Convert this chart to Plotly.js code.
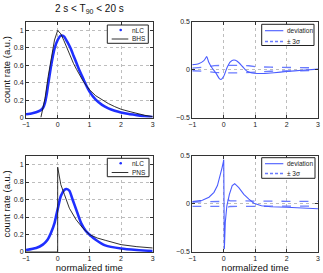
<!DOCTYPE html>
<html><head><meta charset="utf-8">
<script src="https://cdn.plot.ly/plotly-3.0.1.min.js"></script>
<style>html,body{margin:0;padding:0;background:#fff}#c{width:323px;height:273px}</style>
</head><body><div id="c"></div>
<script>
// ---- top row: 2 s < T90 < 20 s, BHS model ----
const nlcTopX = [-1,-0.8,-0.6,-0.5,-0.45,-0.4,-0.35,-0.3,-0.2,-0.1,0,0.1,0.2,0.3,0.4,0.5,0.6,0.7,0.8,0.9,1.0,1.2,1.4,1.6,1.8,2.0,2.25,2.5,2.75,3.0];
const nlcTopY = [0.038,0.05,0.072,0.095,0.12,0.17,0.26,0.38,0.61,0.79,0.89,0.94,0.93,0.87,0.8,0.71,0.62,0.53,0.45,0.37,0.3,0.205,0.145,0.105,0.078,0.058,0.04,0.027,0.015,0.006];
const bhsX = [-0.53,-0.45,-0.4,-0.3,-0.2,-0.1,0,0.1,0.2,0.3,0.4,0.5,0.6,0.7,0.8,0.9,1.0,1.2,1.4,1.6,1.8,2.0,2.25,2.5,2.75,3.0];
const bhsY = [0,0.13,0.22,0.47,0.70,0.89,1.0,0.96,0.88,0.79,0.70,0.62,0.55,0.48,0.42,0.37,0.32,0.25,0.2,0.16,0.125,0.095,0.07,0.047,0.025,0.01];
const devTopX = [-1,-0.8,-0.63,-0.54,-0.48,-0.37,-0.24,-0.14,-0.085,0,0.1,0.21,0.32,0.43,0.59,0.74,0.9,1.06,1.3,1.6,2.0,2.5,3.0];
const devTopY = [0.052,0.062,0.094,0.135,0.08,0.017,-0.04,-0.094,-0.104,-0.07,0.017,0.08,0.10,0.087,0.035,-0.017,-0.035,-0.04,-0.04,-0.033,-0.02,-0.007,0.005];
const sigTopX = [-1,-0.7,-0.5,-0.3,0,0.5,0.8,1,1.5,2,2.5,3];
const sigTopUp = [0.015,0.02,0.03,0.042,0.045,0.045,0.04,0.03,0.025,0.022,0.02,0.018];
const sigTopLo = [-0.012,-0.015,-0.02,-0.03,-0.035,-0.035,-0.03,-0.022,-0.017,-0.014,-0.012,-0.01];

// ---- bottom row: PNS model ----
const nlcBotX = [-1,-0.68,-0.47,-0.32,-0.21,-0.1,-0.05,0,0.1,0.21,0.28,0.37,0.47,0.58,0.74,0.89,1.0,1.2,1.5,2.0,2.5,3.0];
const nlcBotY = [0.023,0.046,0.084,0.14,0.22,0.33,0.41,0.49,0.64,0.71,0.72,0.7,0.6,0.49,0.33,0.24,0.2,0.14,0.076,0.04,0.023,0.012];
const pnsX = [-1,0,0,0.05,0.1,0.21,0.37,0.58,0.79,1.0,1.25,1.5,2.0,2.5,3.0];
const pnsY = [0,0,0.97,0.87,0.77,0.66,0.5,0.37,0.275,0.2,0.16,0.134,0.084,0.061,0.046];
const devBotX = [-1,-0.68,-0.47,-0.31,-0.2,-0.1,-0.05,-0.01,0,0.02,0.05,0.1,0.18,0.27,0.35,0.48,0.64,0.8,0.96,1.2,1.5,2.0,2.5,3.0];
const devBotY = [0.024,0.038,0.07,0.12,0.19,0.3,0.38,0.44,0.46,-0.47,-0.19,-0.02,0.1,0.19,0.21,0.17,0.1,0.05,0.007,-0.02,-0.03,-0.035,-0.04,-0.05];
const sigBotX = [-1,-0.5,-0.1,0,0.12,0.2,0.5,1,1.5,2,2.5,3];
const sigBotUp = [0.02,0.022,0.025,0.045,0.045,0.032,0.03,0.028,0.027,0.027,0.027,0.027];
const sigBotLo = [-0.025,-0.025,-0.025,-0.035,-0.035,-0.027,-0.025,-0.024,-0.023,-0.023,-0.023,-0.023];

const xTicks = [-1,0,1,2,3];
const yTicksL = [0,0.2,0.4,0.6,0.8,1];
const yTicksR = [-0.5,0,0.5];
const legTopL = ['nLC','BHS'];
const legBotL = ['nLC','PNS'];
const legR = ['deviation','± 3σ'];

const BLUE = '#1f2fff', DEV = '#4a5cff', SIG = '#6a7bff', BLK = '#1a1a1a';

function tr(x,y,xa,ya,name,line){ return {x:x,y:y,xaxis:xa,yaxis:ya,mode:'lines',name:name,line:line,showlegend:false,hoverinfo:'skip'}; }
const nlcLine = {color:BLUE,width:2.6,shape:'spline',smoothing:0.6};
const devLine = {color:DEV,width:1.1,shape:'spline',smoothing:0.5};
const sigLine = {color:SIG,width:1.3,dash:'dash'};
const blkLine = {color:BLK,width:0.9};
const data = [
  tr(nlcTopX,nlcTopY,'x','y','nLC',nlcLine),
  tr(bhsX,bhsY,'x','y','BHS',blkLine),
  tr(sigTopX,sigTopUp,'x2','y2','+3σ',sigLine),
  tr(sigTopX,sigTopLo,'x2','y2','-3σ',sigLine),
  tr(devTopX,devTopY,'x2','y2','deviation',devLine),
  tr(nlcBotX,nlcBotY,'x3','y3','nLC',nlcLine),
  tr(pnsX,pnsY,'x3','y3','PNS',blkLine),
  tr(sigBotX,sigBotUp,'x4','y4','+3σ',sigLine),
  tr(sigBotX,sigBotLo,'x4','y4','-3σ',sigLine),
  tr(devBotX,devBotY,'x4','y4','deviation',{color:DEV,width:1.1})
];

const FONT = 'Liberation Sans, Arial, sans-serif';
function ax(domain, range, ticks, anchor, title){
  const a = {
    domain:domain, range:range, tickmode:'array', tickvals:ticks, anchor:anchor,
    showline:true, mirror:'ticks', linecolor:'#333', linewidth:1,
    ticks:'inside', ticklen:3, tickcolor:'#333',
    showgrid:true, gridcolor:'#bdbdbd', griddash:'dot', gridwidth:1,
    zeroline:false, tickfont:{size:7,color:'#222',family:FONT}
  };
  if (title) a.title = {text:title, font:{size:9.5,color:'#111',family:FONT}, standoff:1};
  return a;
}
const W=323,H=273;
const px=v=>v/W, py=v=>1-v/H;
const XL=[px(26),px(152.7)], XR=[px(192.3),px(318)], YT=[py(117.5),py(21.7)], YB=[py(252),py(155.8)];

const shapes=[], annotations=[];
// custom legend: box [x0,x1,y0,y1] in px, rows y in px
function legend(box, rows, labels, kinds){
  shapes.push({type:'rect',xref:'paper',yref:'paper',x0:px(box[0]),x1:px(box[1]),y0:py(box[3]),y1:py(box[2]),
    line:{color:'#222',width:1},fillcolor:'#fff',layer:'above'});
  labels.forEach((lab,i)=>{
    const k=kinds[i], yy=py(rows[i]);
    if (k.dot){
      shapes.push({type:'circle',xref:'paper',yref:'paper',x0:px(k.cx-1.3),x1:px(k.cx+1.3),y0:py(rows[i]+1.3),y1:py(rows[i]-1.3),
        line:{width:0},fillcolor:k.color,layer:'above'});
    } else {
      shapes.push({type:'line',xref:'paper',yref:'paper',x0:px(k.x0),x1:px(k.x1),y0:yy,y1:yy,
        line:{color:k.color,width:k.width,dash:k.dash||'solid'},layer:'above'});
    }
    annotations.push({text:lab,xref:'paper',yref:'paper',x:px(k.tx),y:yy,xanchor:'left',yanchor:'middle',
      showarrow:false,font:{size:6.5,color:'#222',family:FONT}});
  });
}
legend([107.3,148.3,25,43.3],[30,39],legTopL,[
  {dot:true,cx:120.7,color:BLUE,tx:129.5},
  {x0:111.7,x1:128.3,color:BLK,width:0.9,tx:129.5}]);
legend([261.7,314,24.3,45.5],[30.7,41.5],legR,[
  {x0:265,x1:283.3,color:DEV,width:1.1,tx:284.5},
  {x0:265,x1:283.3,color:SIG,width:1.4,dash:'3px,2px',tx:284.5}]);
legend([107.3,149,158.3,176.7],[163.3,172.5],legBotL,[
  {dot:true,cx:120.7,color:BLUE,tx:129.5},
  {x0:111.7,x1:128.3,color:BLK,width:0.9,tx:129.5}]);
legend([261.7,315,157.7,178.3],[163.7,173.5],legR,[
  {x0:265,x1:283.3,color:DEV,width:1.1,tx:284.5},
  {x0:265,x1:283.3,color:SIG,width:1.4,dash:'3px,2px',tx:284.5}]);

annotations.push({text:'2 s < T<sub>90</sub> < 20 s',xref:'paper',yref:'paper',x:px(89),y:py(9),xanchor:'center',yanchor:'middle',showarrow:false,font:{size:10,color:'#111',family:FONT}});

const layout = {
  width:W,height:H,margin:{l:0,r:0,t:0,b:0},paper_bgcolor:'#fff',plot_bgcolor:'#fff',
  showlegend:false,font:{family:FONT},
  xaxis: ax(XL,[-1,3],xTicks,'y'),
  yaxis: ax(YT,[0,1.1],yTicksL,'x','count rate (a.u.)'),
  xaxis2: ax(XR,[-1,3],xTicks,'y2'),
  yaxis2: ax(YT,[-0.5,0.5],yTicksR,'x2'),
  xaxis3: ax(XL,[-1,3],xTicks,'y3','normalized time'),
  yaxis3: ax(YB,[0,1.1],yTicksL,'x3','count rate (a.u.)'),
  xaxis4: ax(XR,[-1,3],xTicks,'y4','normalized time'),
  yaxis4: ax(YB,[-0.5,0.5],yTicksR,'x4'),
  shapes:shapes, annotations:annotations
};
Plotly.newPlot('c',data,layout,{staticPlot:true,displayModeBar:false});
</script></body></html>
